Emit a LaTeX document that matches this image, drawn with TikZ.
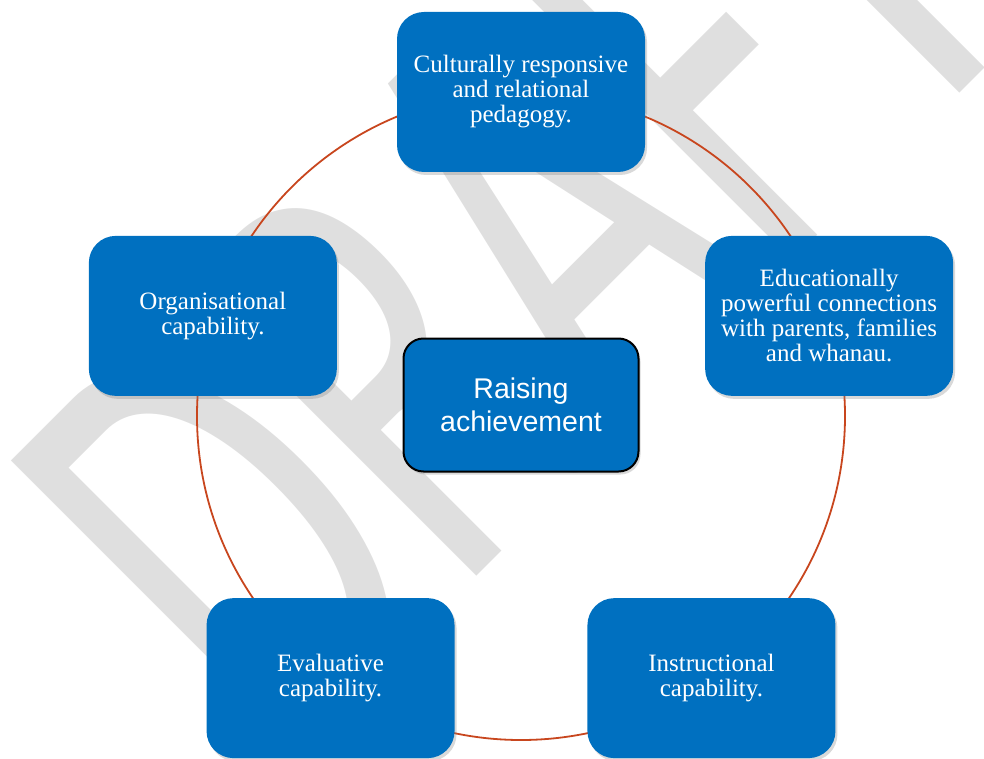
\documentclass[tikz,border=0pt]{standalone}
\usepackage{fontspec}
\setmainfont{Liberation Serif}
\setsansfont{Liberation Sans}
\newfontfamily\wmfont{Carlito}
\usetikzlibrary{shadows}
\definecolor{boxblue}{RGB}{0,112,192}
\definecolor{ringred}{RGB}{200,70,30}

\begin{document}
\begin{tikzpicture}[x=1pt, y=1pt,
	wm/.style={text=gray!25, inner sep=0pt, font=\wmfont\fontsize{400}{400}\selectfont},
	ring/.style={draw=ringred, line width=1.8pt},
	box/.style={rectangle, rounded corners=27pt, fill=boxblue, text=white, minimum width=248pt, minimum height=160pt, align=center, font=\fontsize{25}{25}\selectfont, drop shadow={opacity=0.3, shadow xshift=2pt, shadow yshift=-3pt}},
	hub/.style={rectangle, rounded corners=20pt, fill=boxblue, draw=black, line width=2pt, text=white, minimum width=235pt, minimum height=133pt, align=center, font=\sffamily\fontsize{28.5}{33}\selectfont, drop shadow={opacity=0.3, shadow xshift=2pt, shadow yshift=-3pt}}]
		\useasboundingbox (-521,-342) rectangle (463,416);
		\node [wm, rotate=45, yscale=1.6, anchor=base west] (draft) at (-239,-355) {DRAFT};

		\coordinate (O) at (0,0);
		\draw [ring] (O) circle (324pt);

		\node [box] (cult) at (90:324) {Culturally responsive\\and relational\\pedagogy.};
		\node [box] (conn) at (18:324) {Educationally\\powerful connections\\with parents, families\\and whanau.};
		\node [box] (inst) at (-54:324) {Instructional\\capability.};
		\node [box] (eval) at (234:324) {Evaluative\\capability.};
		\node [box] (org) at (162:324) {Organisational\\capability.};
		\node [hub] (hub) at (0,11) {Raising\\achievement};
	\end{tikzpicture}
\end{document}
